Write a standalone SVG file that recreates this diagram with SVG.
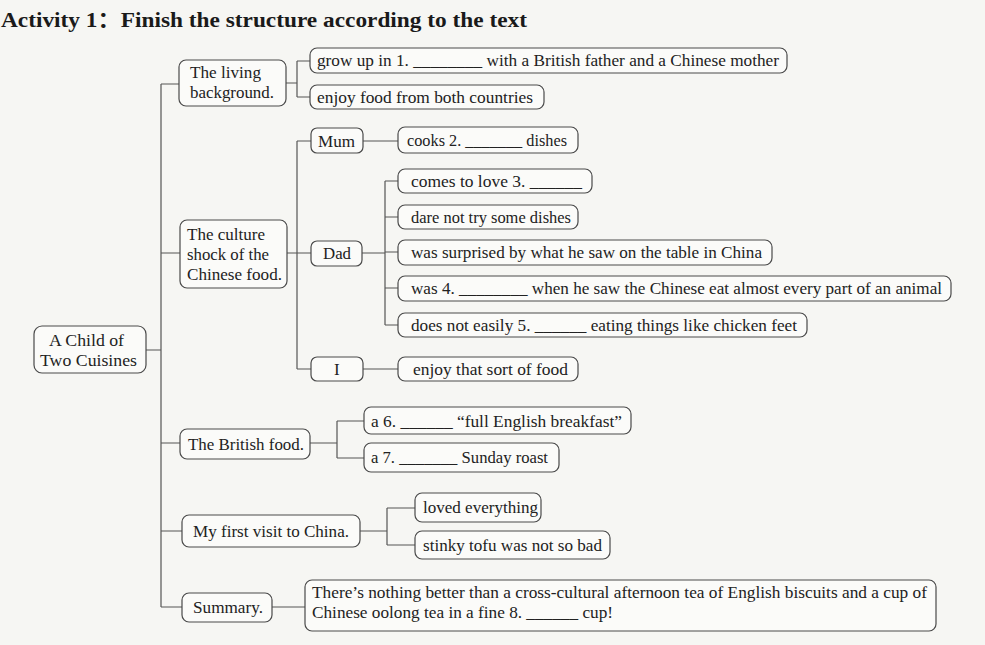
<svg xmlns="http://www.w3.org/2000/svg" width="985" height="645" viewBox="0 0 985 645">
<style>
.bg{fill:#f6f6f3}
.box{fill:#fbfbf9;stroke:#4a4a4a;stroke-width:1.2}
.ln{fill:none;stroke:#555;stroke-width:1.2}
text{font-family:"Liberation Serif","Times New Roman",serif;font-size:17px;fill:#222}
.title{font-weight:bold;font-size:21px;fill:#1a1a1a;font-family:"Liberation Serif","Noto Sans CJK SC",serif}
</style>
<rect class="bg" x="0" y="0" width="985" height="645"/>
<text class="title" x="1" y="27" textLength="526" lengthAdjust="spacingAndGlyphs">Activity 1：Finish the structure according to the text</text>

<g id="connectors">
<path class="ln" d="M146 350H161M161 84V607M161 84H179M161 253H180M161 443H180M161 531H182M161 607H182"/>
<path class="ln" d="M286 83H297M297 61V97M297 61H310M297 97H310"/>
<path class="ln" d="M287 253H311M297 141V369M297 141H311M297 369H311"/>
<path class="ln" d="M363 141H398"/>
<path class="ln" d="M362 253H385M385 181V325M385 181H398M385 217H398M385 252H398M385 288H398M385 325H398"/>
<path class="ln" d="M363 369H398"/>
<path class="ln" d="M310 443H337M337 421V458M337 421H364M337 458H364"/>
<path class="ln" d="M360 531H387M387 508V545M387 508H415M387 545H415"/>
<path class="ln" d="M272 607H305"/>
</g>

<g id="root">
<rect class="box" x="34" y="326" width="112" height="47" rx="8"/>
<text x="49" y="346" textLength="75" lengthAdjust="spacingAndGlyphs">A Child of</text>
<text x="40" y="366" textLength="97" lengthAdjust="spacingAndGlyphs">Two Cuisines</text>
</g>

<g id="living">
<rect class="box" x="179" y="60" width="107" height="46" rx="7"/>
<text x="190" y="78" textLength="71" lengthAdjust="spacingAndGlyphs">The living</text>
<text x="190" y="98" textLength="84" lengthAdjust="spacingAndGlyphs">background.</text>
</g>
<g id="grow">
<rect class="box" x="310" y="48" width="477" height="25" rx="7"/>
<text x="317" y="66" textLength="462" lengthAdjust="spacingAndGlyphs">grow up in 1. ________ with a British father and a Chinese mother</text>
</g>
<g id="enjoyboth">
<rect class="box" x="310" y="85" width="234" height="24" rx="7"/>
<text x="317" y="103" textLength="216" lengthAdjust="spacingAndGlyphs">enjoy food from both countries</text>
</g>

<g id="culture">
<rect class="box" x="180" y="220" width="107" height="68" rx="7"/>
<text x="187" y="240" textLength="78" lengthAdjust="spacingAndGlyphs">The culture</text>
<text x="187" y="260" textLength="82" lengthAdjust="spacingAndGlyphs">shock of the</text>
<text x="187" y="280" textLength="95" lengthAdjust="spacingAndGlyphs">Chinese food.</text>
</g>
<g id="mum">
<rect class="box" x="311" y="128" width="52" height="25" rx="6"/>
<text x="318" y="147" textLength="37" lengthAdjust="spacingAndGlyphs">Mum</text>
</g>
<g id="cooks">
<rect class="box" x="398" y="127" width="180" height="26" rx="7"/>
<text x="407" y="146" textLength="160" lengthAdjust="spacingAndGlyphs">cooks 2. _______ dishes</text>
</g>
<g id="dad">
<rect class="box" x="311" y="241" width="51" height="25" rx="6"/>
<text x="323" y="259" textLength="28" lengthAdjust="spacingAndGlyphs">Dad</text>
</g>
<g id="comes">
<rect class="box" x="398" y="169" width="194" height="24" rx="7"/>
<text x="411" y="187" textLength="171" lengthAdjust="spacingAndGlyphs">comes to love 3. ______</text>
</g>
<g id="dare">
<rect class="box" x="398" y="205" width="180" height="24" rx="7"/>
<text x="411" y="223" textLength="160" lengthAdjust="spacingAndGlyphs">dare not try some dishes</text>
</g>
<g id="surprised">
<rect class="box" x="398" y="240" width="374" height="25" rx="7"/>
<text x="411" y="258" textLength="351" lengthAdjust="spacingAndGlyphs">was surprised by what he saw on the table in China</text>
</g>
<g id="was4">
<rect class="box" x="398" y="276" width="553" height="25" rx="7"/>
<text x="411" y="294" textLength="531" lengthAdjust="spacingAndGlyphs">was 4. ________ when he saw the Chinese eat almost every part of an animal</text>
</g>
<g id="easily">
<rect class="box" x="398" y="313" width="409" height="24" rx="7"/>
<text x="411" y="331" textLength="386" lengthAdjust="spacingAndGlyphs">does not easily 5. ______ eating things like chicken feet</text>
</g>
<g id="i">
<rect class="box" x="311" y="357" width="52" height="24" rx="6"/>
<text x="334" y="375">I</text>
</g>
<g id="enjoysort">
<rect class="box" x="398" y="357" width="180" height="24" rx="7"/>
<text x="413" y="375" textLength="155" lengthAdjust="spacingAndGlyphs">enjoy that sort of food</text>
</g>

<g id="british">
<rect class="box" x="180" y="429" width="130" height="30" rx="7"/>
<text x="188" y="450" textLength="116" lengthAdjust="spacingAndGlyphs">The British food.</text>
</g>
<g id="a6">
<rect class="box" x="364" y="407" width="267" height="27" rx="7"/>
<text x="371" y="427" textLength="251" lengthAdjust="spacingAndGlyphs">a 6. ______ “full English breakfast”</text>
</g>
<g id="a7">
<rect class="box" x="364" y="443" width="195" height="29" rx="7"/>
<text x="371" y="463" textLength="177" lengthAdjust="spacingAndGlyphs">a 7. _______ Sunday roast</text>
</g>

<g id="visit">
<rect class="box" x="182" y="515" width="178" height="32" rx="7"/>
<text x="193" y="537" textLength="156" lengthAdjust="spacingAndGlyphs">My first visit to China.</text>
</g>
<g id="loved">
<rect class="box" x="415" y="493" width="126" height="29" rx="7"/>
<text x="423" y="513" textLength="115" lengthAdjust="spacingAndGlyphs">loved everything</text>
</g>
<g id="stinky">
<rect class="box" x="415" y="531" width="195" height="28" rx="7"/>
<text x="423" y="551" textLength="179" lengthAdjust="spacingAndGlyphs">stinky tofu was not so bad</text>
</g>

<g id="summary">
<rect class="box" x="182" y="593" width="90" height="29" rx="7"/>
<text x="193" y="613" textLength="70" lengthAdjust="spacingAndGlyphs">Summary.</text>
</g>
<g id="summarytext">
<rect class="box" x="305" y="580" width="631" height="51" rx="7"/>
<text x="312" y="598" textLength="615" lengthAdjust="spacingAndGlyphs">There’s nothing better than a cross-cultural afternoon tea of English biscuits and a cup of</text>
<text x="312" y="618" textLength="301" lengthAdjust="spacingAndGlyphs">Chinese oolong tea in a fine 8. ______ cup!</text>
</g>
</svg>
